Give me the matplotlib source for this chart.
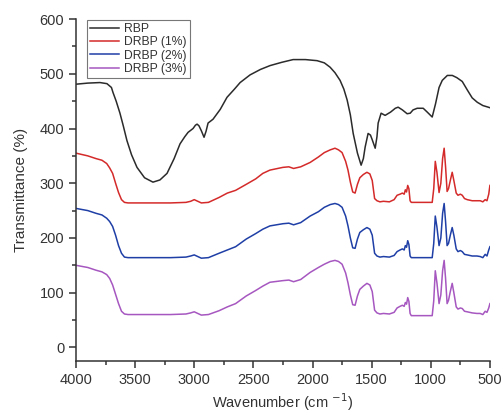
import numpy as np
import matplotlib
matplotlib.use("Agg")
import matplotlib.pyplot as plt
from matplotlib.ticker import MultipleLocator

plt.rcParams['font.family'] = ['Liberation Sans', 'DejaVu Sans']

# RBP spectrum
wn_rbp = [4000, 3900, 3797, 3738, 3700, 3687, 3660, 3628, 3600, 3569, 3530, 3484,
          3420, 3349, 3290, 3230, 3170, 3120, 3080, 3052, 3010, 2990, 2976, 2960,
          2940, 2917, 2900, 2883, 2841, 2780, 2723, 2660, 2612, 2528, 2440, 2359,
          2260, 2164, 2060, 1961, 1900, 1851, 1810, 1767, 1735, 1707, 1680, 1656,
          1620, 1589, 1570, 1555, 1530, 1510, 1496, 1470, 1455, 1445, 1420, 1386,
          1340, 1300, 1276, 1240, 1200, 1174, 1150, 1115, 1064, 1030, 988, 960,
          930, 903, 860, 818, 780, 734, 690, 650, 607, 560, 514, 500]
rbp = [481, 483, 484, 482, 475, 466, 450, 428, 405, 378, 352, 329,
       310, 302, 306, 318, 345, 372, 385, 393, 400, 406, 408, 405,
       396, 384, 395, 410, 417, 435, 457, 472, 484, 498, 508, 515,
       521, 526, 526, 524, 520, 512, 502, 488, 472, 452, 425, 391,
       355, 333, 345, 366, 391, 388, 380, 364, 385, 410, 428, 424,
       430, 437, 439, 434, 427, 428, 434, 437, 437, 430, 421, 445,
       475, 488, 497, 497, 493, 486, 470, 456, 448, 442, 439, 438]

# DRBP spectra (shared wavenumber grid)
wn_d = [4000, 3900, 3830, 3780, 3740, 3715, 3690, 3665, 3640, 3615, 3590, 3560,
        3400, 3200, 3070, 3030, 3000, 2970, 2940, 2880, 2790, 2720, 2650, 2560,
        2480, 2420, 2360, 2250, 2200, 2160, 2100, 2020, 1950, 1900, 1850, 1810,
        1780, 1750, 1720, 1700, 1680, 1660, 1640, 1620, 1600, 1570, 1540, 1515,
        1495, 1475, 1455, 1430, 1400, 1350, 1310, 1285, 1260, 1240, 1225, 1215,
        1205, 1195, 1185, 1175, 1165, 1100, 1040, 988, 975, 962, 948, 930,
        915, 900, 887, 875, 862, 850, 835, 819, 805, 785, 770, 750,
        734, 715, 692, 650, 610, 582, 560, 540, 525, 510, 500]
drbp1 = [355, 350, 345, 342, 336, 328, 318, 300, 283, 270, 265, 264,
         264, 264, 265, 267, 270, 267, 264, 265, 274, 282, 287, 298,
         308, 318, 324, 329, 330, 327, 330, 338, 348, 356, 361, 364,
         361, 356, 340, 324, 302, 284, 282, 298, 310, 316, 320, 317,
         305, 272, 268, 266, 267, 266, 270, 278, 280, 282, 280, 288,
         284, 296, 290, 268, 265, 265, 265, 265, 290, 340, 320, 283,
         300, 345, 364, 330, 285, 290, 305, 320, 305, 282, 278, 280,
         278, 272, 270, 268, 268, 268, 266, 270, 268, 280, 296]
drbp2 = [254, 250, 245, 242, 236, 230, 221, 205, 186, 172, 165, 164,
         164, 164, 165, 167, 169, 166, 163, 164, 172, 178, 184, 198,
         208, 216, 222, 226, 227, 224, 228, 240, 248, 256, 261, 263,
         261, 256, 240, 222, 200, 182, 181, 198, 210, 215, 219, 216,
         205, 172, 167, 165, 166, 165, 168, 175, 178, 180, 178, 186,
         183, 195, 188, 167, 164, 164, 164, 164, 190, 240, 220, 186,
         200, 245, 263, 230, 186, 190, 205, 219, 205, 180, 175, 177,
         175, 170, 169, 167, 167, 166, 164, 170, 167, 178, 184]
drbp3 = [150, 146, 141, 138, 133, 126, 114, 97, 80, 66, 61, 60,
         60, 60, 61, 63, 65, 62, 59, 60, 67, 74, 80, 94,
         104, 112, 119, 122, 123, 120, 124, 137, 146, 152, 157, 159,
         157, 152, 136, 118, 96, 78, 77, 94, 106, 112, 117, 114,
         102, 68, 63, 61, 62, 61, 64, 72, 75, 77, 75, 82,
         79, 91, 84, 62, 58, 58, 58, 58, 85, 140, 118, 80,
         96, 140, 159, 126, 80, 86, 102, 117, 100, 74, 70, 72,
         71, 66, 65, 63, 62, 62, 60, 66, 64, 72, 80]

labels = ["RBP", "DRBP (1%)", "DRBP (2%)", "DRBP (3%)"]
colors = ["#2b2b2b", "#d42a2a", "#1f3fa6", "#a657c0"]

fig = plt.figure(figsize=(5.03, 4.15), dpi=100)
ax = fig.add_axes([0.151, 0.130, 0.823, 0.824])

ax.plot(wn_rbp, rbp, color=colors[0], lw=1.1, label=labels[0])
ax.plot(wn_d, drbp1, color=colors[1], lw=1.1, label=labels[1])
ax.plot(wn_d, drbp2, color=colors[2], lw=1.1, label=labels[2])
ax.plot(wn_d, drbp3, color=colors[3], lw=1.1, label=labels[3])

ax.set_xlim(4000, 500)
ax.set_ylim(-25, 600)
ax.xaxis.set_major_locator(MultipleLocator(500))
ax.xaxis.set_minor_locator(MultipleLocator(250))
ax.yaxis.set_major_locator(MultipleLocator(100))
ax.yaxis.set_minor_locator(MultipleLocator(50))

for s in ["top", "right"]:
    ax.spines[s].set_visible(False)
for s in ["left", "bottom"]:
    ax.spines[s].set_color("#333333")
    ax.spines[s].set_linewidth(1.1)

ax.tick_params(which="both", direction="out", colors="#333333", labelsize=10.5)
ax.tick_params(which="major", length=5, width=1.1)
ax.tick_params(which="minor", length=3, width=1.1)

ax.set_xlabel("Wavenumber (cm $^{-1}$)", fontsize=10.5, color="#333333", labelpad=3)
ax.set_ylabel("Transmittance (%)", fontsize=11, color="#333333", labelpad=8)

leg = ax.legend(loc="upper left", bbox_to_anchor=(0.027, 0.998), borderaxespad=0,
                fontsize=8.7, frameon=True, fancybox=False, handlelength=2.4,
                labelspacing=0.12, borderpad=0.25, handletextpad=0.4)
leg.get_frame().set_edgecolor("#555555")
leg.get_frame().set_linewidth(0.8)
for t in leg.get_texts():
    t.set_color("#333333")

fig.savefig("out.png", dpi=100)
